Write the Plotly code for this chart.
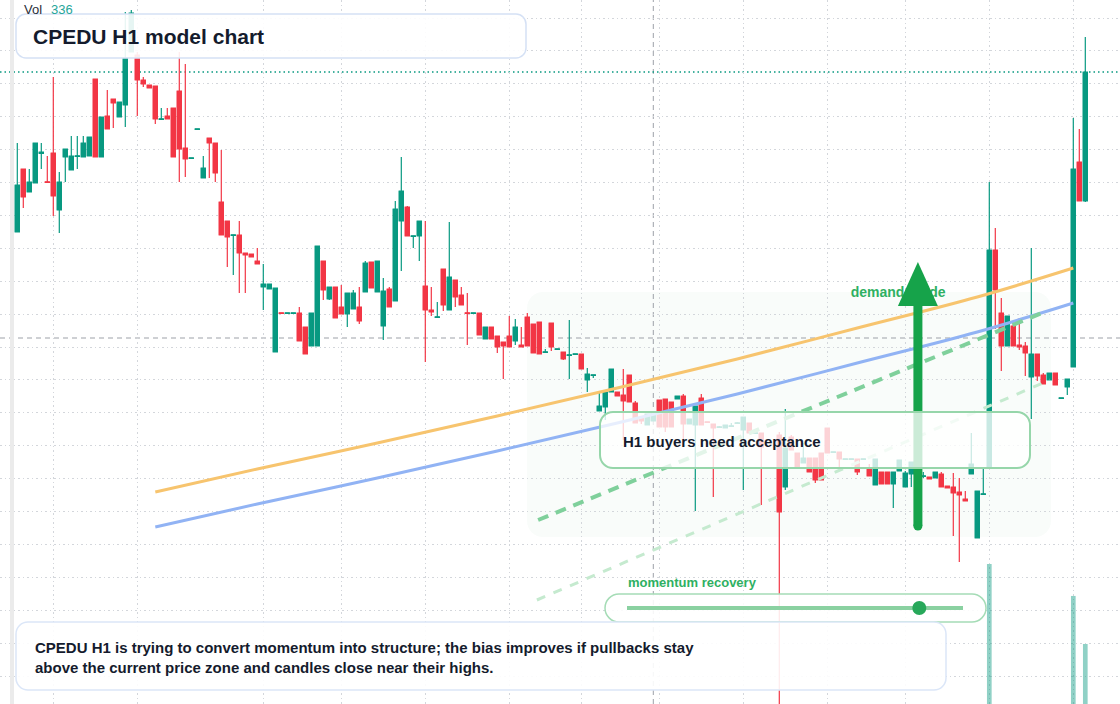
import plotly.graph_objects as go

# ---------------- data ----------------
bars = list(range(179))
opens = [7.68, 8.31, 8.08, 8.17, 8.465, 8.18, 8.47, 7.90, 8.43, 8.30,
         8.435, 8.43, 8.44, 9.21, 8.43, 8.84, 9.01, 8.83, 8.95, 9.48,
         9.45, 9.20, 9.15, 9.14, 8.805, 8.84, 8.92, 9.09, 8.52, 8.415,
         8.705, 8.22, 8.62, 8.57, 7.98, 7.79, 7.645, 7.65, 7.47, 7.46,
         7.39, 7.13, 7.11, 6.48, 6.87, 6.865, 6.865, 6.87, 6.73, 6.54,
         6.54, 7.39, 7.01, 7.13, 6.93, 6.86, 6.91, 6.93, 7.08, 7.38,
         7.08, 6.74, 7.11, 6.99, 7.79, 7.93, 7.635, 7.64, 7.14, 6.90,
         6.825, 7.31, 6.90, 7.20, 7.05, 6.87, 6.865, 6.87, 6.61, 6.73,
         6.64, 6.58, 6.64, 6.59, 6.55, 6.83, 6.76, 6.78, 6.475, 6.77,
         6.505, 6.48, 6.445, 6.455, 6.46, 6.20, 6.245, 5.89, 5.93, 6.08,
         6.08, 6.05, 6.25, 5.97, 5.82, 5.75, 5.79, 6.00, 6.01, 5.98,
         6.01, 6.04, 5.76, 5.75, 6.02, 5.78, 5.76, 5.725, 5.72, 5.735,
         5.765, 5.70, 5.77, 5.665, 5.67, None, None, 5.65, 5.13, 5.63,
         5.47, 5.37, 5.42, 5.42, 5.47, 5.72, 5.475, 5.48, 5.405, 5.405,
         5.41, 5.405, 5.31, 5.15, 5.28, 5.28, 5.16, 5.29, 5.13, 5.26,
         5.295, 5.235, 5.23, 5.22, 5.26, 5.14, 5.13, 5.08, 5.01, 5.26,
         4.62, 5.055, 5.32, 7.50, 6.87, 6.54, 6.74, 6.55, 6.54, 6.23,
         6.46, 6.25, 6.20, 6.27, 6.015, 6.13, 6.33, 8.38, 7.99]
highs = [8.57, 8.31, 8.31, 8.57, 8.57, 8.44, 9.23, 8.28, 8.51, 8.64,
         8.64, 8.64, 8.63, 9.21, 8.83, 9.10, 9.01, 8.98, 9.88, 9.90,
         9.48, 9.23, 9.15, 9.14, 8.92, 8.92, 8.92, 9.48, 9.36, 8.42,
         8.71, 8.44, 8.62, 8.57, 8.50, 7.79, 7.65, 7.79, 7.47, 7.46,
         7.52, 7.36, 7.16, 7.12, 6.87, 6.87, 6.87, 6.93, 6.73, 6.87,
         7.54, 7.39, 7.13, 7.13, 7.15, 7.07, 7.10, 7.13, 7.39, 7.38,
         7.39, 7.22, 7.13, 7.99, 8.43, 7.94, 7.64, 7.79, 7.79, 7.13,
         6.98, 7.31, 7.78, 7.20, 7.13, 7.07, 6.87, 6.87, 6.73, 6.73,
         6.64, 6.58, 6.84, 6.81, 6.73, 6.87, 6.76, 6.78, 6.51, 6.77,
         6.51, 6.48, 6.80, 6.46, 6.46, 6.32, 6.25, 6.08, 6.08, 6.31,
         6.08, 6.31, 6.25, 5.99, 5.82, 5.86, 5.87, 6.00, 6.01, 5.98,
         6.04, 6.06, 5.81, 5.94, 6.06, 5.78, 5.76, 5.74, 5.75, 5.77,
         5.78, 5.83, 5.77, 5.67, 5.67, None, None, 5.68, 5.91, 5.65,
         5.47, 5.57, 5.42, 5.42, 5.47, 5.72, 5.48, 5.48, 5.41, 5.41,
         5.41, 5.41, 5.36, 5.41, 5.28, 5.28, 5.28, 5.40, 5.29, 5.38,
         5.30, 5.28, 5.23, 5.28, 5.28, 5.14, 5.27, 5.22, 5.09, 5.67,
         5.09, 5.32, 8.18, 7.72, 7.02, 6.84, 6.76, 6.82, 6.58, 7.52,
         6.46, 6.27, 6.27, 6.27, 6.02, 6.21, 8.82, 8.71, 9.63]
lows = [7.68, 7.92, 8.08, 8.17, 8.31, 8.175, 7.84, 7.67, 8.18, 8.30,
        8.31, 8.43, 8.44, 8.43, 8.43, 8.71, 8.72, 8.83, 8.73, 9.48,
        8.84, 9.13, 9.12, 8.76, 8.805, 8.81, 8.43, 8.18, 8.23, 8.415,
        8.705, 8.22, 8.22, 8.18, 7.65, 7.33, 7.25, 7.07, 7.07, 7.43,
        7.36, 6.90, 7.11, 6.48, 6.865, 6.865, 6.865, 6.59, 6.46, 6.54,
        6.54, 7.00, 7.00, 6.82, 6.86, 6.73, 6.91, 6.76, 7.08, 7.12,
        7.08, 6.60, 6.93, 6.99, 7.29, 7.64, 7.52, 7.39, 6.38, 6.84,
        6.825, 6.89, 6.90, 6.93, 6.95, 6.55, 6.865, 6.65, 6.61, 6.61,
        6.47, 6.21, 6.53, 6.55, 6.53, 6.54, 6.47, 6.46, 6.475, 6.49,
        6.505, 6.40, 6.21, 6.455, 6.31, 6.08, 6.22, 5.89, 5.80, 6.08,
        6.04, 5.60, 5.98, 5.77, 5.76, 5.75, 5.79, 5.73, 5.68, 5.73,
        6.01, 5.61, 5.76, 4.89, 5.75, 5.775, 5.03, 5.72, 5.72, 5.735,
        5.765, 5.10, 5.67, 5.665, 4.95, None, None, 2.80, 5.10, 5.50,
        5.33, 5.37, 5.28, 5.17, 5.20, 5.47, 5.475, 5.32, 5.405, 5.405,
        5.25, 5.405, 5.24, 5.15, 5.16, 5.16, 4.92, 5.29, 5.13, 5.13,
        5.295, 5.22, 5.21, 5.22, 5.13, 5.12, 4.64, 4.38, 4.99, 5.26,
        4.62, 5.055, 5.32, 6.71, 6.29, 6.54, 6.54, 6.50, 6.24, 5.81,
        6.19, 6.16, 6.20, 6.15, 6.015, 6.05, 6.33, 7.99, 7.98]
closes = [8.15, 8.03, 8.18, 8.57, 8.48, 8.175, 8.04, 8.18, 8.51, 8.44,
          8.44, 8.57, 8.63, 8.43, 8.83, 8.71, 8.97, 8.98, 9.42, 9.87,
          9.20, 9.16, 9.12, 8.81, 8.81, 8.81, 8.43, 8.51, 8.41, 8.42,
          8.71, 8.32, 8.57, 8.27, 7.65, 7.63, 7.65, 7.47, 7.45, 7.43,
          7.36, 7.16, 7.16, 7.12, 6.865, 6.87, 6.87, 6.59, 6.46, 6.87,
          7.54, 7.10, 7.13, 6.82, 6.86, 7.07, 7.07, 6.79, 7.37, 7.12,
          7.39, 7.09, 6.93, 7.91, 8.09, 7.64, 7.64, 7.79, 6.90, 6.88,
          6.83, 6.95, 7.23, 7.03, 6.95, 6.865, 6.87, 6.65, 6.73, 6.61,
          6.53, 6.54, 6.53, 6.73, 6.53, 6.54, 6.47, 6.46, 6.48, 6.53,
          6.51, 6.41, 6.45, 6.46, 6.31, 6.26, 6.25, 5.94, 6.08, 6.31,
          6.04, 5.99, 5.98, 5.77, 5.79, 5.86, 5.87, 5.73, 5.73, 5.73,
          6.04, 5.76, 5.81, 5.94, 5.75, 5.775, 5.72, 5.73, 5.75, 5.74,
          5.77, 5.83, 5.67, 5.67, 5.53, None, None, 4.88, 5.52, 5.50,
          5.33, 5.42, 5.28, 5.20, 5.20, 5.47, 5.48, 5.41, 5.41, 5.41,
          5.28, 5.41, 5.24, 5.41, 5.16, 5.16, 5.28, 5.40, 5.27, 5.38,
          5.30, 5.24, 5.21, 5.28, 5.13, 5.12, 5.07, 5.05, 4.99, 5.36,
          5.09, 5.06, 7.50, 7.10, 6.54, 6.84, 6.54, 6.53, 6.47, 6.46,
          6.24, 6.16, 6.27, 6.15, 6.02, 6.21, 8.31, 7.99, 9.28]

vol_bars = [162, 176, 178]
vol_values = [784, 605, 336]

ma_bars = [23, 40, 60, 80, 100, 120, 140, 160, 176]
ma_slow = [5.08, 5.31, 5.57, 5.84, 6.12, 6.41, 6.72, 7.03, 7.32]
ma_fast = [4.73, 4.96, 5.22, 5.49, 5.77, 6.06, 6.37, 6.68, 6.97]

support_bars = [86.8, 171.6]
support_vals = [4.80, 6.89]
channel_bars = [86.6, 172.1]
channel_vals = [4.00, 6.20]

grid_bars = [6, 20, 41, 54, 68, 82, 94, 107, 121, 135, 148, 162, 176]

crosshair_bar = 106
crosshair_price = 6.62
momentum_value = 0.87

# ---------------- style ----------------
W, H = 1120, 704
GREEN = "#089981"
RED = "#f23645"
FONT = "Liberation Sans, Arial, Helvetica, sans-serif"
DARK = "#141b2d"
GRID = "#d3d6db"
LABEL_GREEN = "#2eb062"

X_RANGE = [-17.3 / 6, (W - 17.3) / 6]
Y_RANGE = [2.96, 10.0]


def px(x):
    return x / W


def py(y):
    return 1 - y / H


def rounded_path(x0, y0, x1, y1, r):
    k = 0.5523 * r
    p = []
    p.append(f"M {px(x0 + r)},{py(y0)}")
    p.append(f"L {px(x1 - r)},{py(y0)}")
    p.append(f"C {px(x1 - r + k)},{py(y0)} {px(x1)},{py(y0 + r - k)} {px(x1)},{py(y0 + r)}")
    p.append(f"L {px(x1)},{py(y1 - r)}")
    p.append(f"C {px(x1)},{py(y1 - r + k)} {px(x1 - r + k)},{py(y1)} {px(x1 - r)},{py(y1)}")
    p.append(f"L {px(x0 + r)},{py(y1)}")
    p.append(f"C {px(x0 + r - k)},{py(y1)} {px(x0)},{py(y1 - r + k)} {px(x0)},{py(y1 - r)}")
    p.append(f"L {px(x0)},{py(y0 + r)}")
    p.append(f"C {px(x0)},{py(y0 + r - k)} {px(x0 + r - k)},{py(y0)} {px(x0 + r)},{py(y0)}")
    p.append("Z")
    return " ".join(p)


# candle bodies (widened bodies on top of the candlestick wicks)
body_base, body_size, body_color = [], [], []
for o, c in zip(opens, closes):
    if o is None or c is None:
        body_base.append(None)
        body_size.append(None)
        body_color.append(GREEN)
        continue
    body_base.append(min(o, c))
    body_size.append(max(abs(c - o), 0.012))
    body_color.append(GREEN if c > o else RED)

fig = go.Figure()

fig.add_trace(go.Bar(
    x=vol_bars, y=vol_values, yaxis="y2", width=0.78,
    marker=dict(color="rgba(8,153,129,0.45)", line=dict(width=0)),
    hoverinfo="skip"))

fig.add_trace(go.Bar(
    x=bars, y=body_size, base=body_base, width=0.82,
    marker=dict(color=body_color, line=dict(width=0)),
    hoverinfo="skip"))

fig.add_trace(go.Candlestick(
    x=bars, open=opens, high=highs, low=lows, close=closes,
    increasing=dict(line=dict(color=GREEN, width=1.2), fillcolor=GREEN),
    decreasing=dict(line=dict(color=RED, width=1.2), fillcolor=RED),
    whiskerwidth=0, hoverinfo="skip"))

fig.add_trace(go.Scatter(x=ma_bars, y=ma_slow, mode="lines",
                         line=dict(color="#f7c46e", width=3, shape="spline"),
                         hoverinfo="skip"))
fig.add_trace(go.Scatter(x=ma_bars, y=ma_fast, mode="lines",
                         line=dict(color="#91b3f4", width=3, shape="spline"),
                         hoverinfo="skip"))
fig.add_trace(go.Scatter(x=support_bars, y=support_vals, mode="lines",
                         line=dict(color="#7fd09b", width=4, dash="11px,8px"),
                         hoverinfo="skip"))
fig.add_trace(go.Scatter(x=channel_bars, y=channel_vals, mode="lines",
                         line=dict(color="#c5eacf", width=3, dash="9px,9px"),
                         hoverinfo="skip"))

# demand label (drawn as trace text so the arrow covers it)
DEMAND_X, DEMAND_Y = 146.8, 7.07
fig.add_trace(go.Scatter(x=[DEMAND_X], y=[DEMAND_Y], mode="text",
                         text=["demand guide"],
                         textfont=dict(size=14, color=LABEL_GREEN, family=FONT, weight="bold"),
                         hoverinfo="skip"))

shapes = []
# faint demand zone
shapes.append(dict(type="path", xref="paper", yref="paper", layer="below",
                   path=rounded_path(527, 292, 1051, 537, 16),
                   fillcolor="rgba(22,163,74,0.028)", line=dict(width=0)))
# crosshair
shapes.append(dict(type="line", xref="paper", yref="y", x0=0, x1=1,
                   y0=crosshair_price, y1=crosshair_price, layer="between",
                   line=dict(color="#9da1a8", width=1, dash="5px,4px")))
shapes.append(dict(type="line", xref="x", yref="paper", x0=crosshair_bar, x1=crosshair_bar,
                   y0=0, y1=1, layer="between",
                   line=dict(color="#9da1a8", width=1, dash="5px,4px")))
# last price line
shapes.append(dict(type="line", xref="paper", yref="y", x0=0, x1=1,
                   y0=closes[-1], y1=closes[-1], layer="between",
                   line=dict(color=GREEN, width=1.5, dash="1.5px,3px")))
# arrow
AX, A_BASE, A_NECK, A_TIP, A_HALF = 150.1, 4.74, 6.95, 7.38, 3.33
ARROW = "#16a34a"
shapes.append(dict(type="line", xref="x", yref="y", x0=AX, x1=AX, y0=A_BASE, y1=A_NECK,
                   layer="above", line=dict(color=ARROW, width=9)))
shapes.append(dict(type="circle", xref="x", yref="y", x0=AX - 0.75, x1=AX + 0.75,
                   y0=A_BASE - 0.045, y1=A_BASE + 0.045, layer="above",
                   fillcolor=ARROW, line=dict(width=0)))
shapes.append(dict(type="path", xref="x", yref="y", layer="above",
                   path=f"M {AX - A_HALF},{A_NECK - 0.01} L {AX + A_HALF},{A_NECK - 0.01} L {AX},{A_TIP} Z",
                   fillcolor=ARROW, line=dict(width=0)))
# callout box
shapes.append(dict(type="path", xref="paper", yref="paper", layer="above",
                   path=rounded_path(600, 412, 1030, 468, 13),
                   fillcolor="rgba(255,255,255,0.78)", line=dict(color="#96d6aa", width=2)))
# title box
shapes.append(dict(type="path", xref="paper", yref="paper", layer="above",
                   path=rounded_path(16, 14, 526, 58, 10),
                   fillcolor="rgba(255,255,255,0.9)", line=dict(color="#d5e1f5", width=1.5)))
# momentum pill
shapes.append(dict(type="path", xref="paper", yref="paper", layer="above",
                   path=rounded_path(605, 594, 986, 622, 14),
                   fillcolor="rgba(255,255,255,0.88)", line=dict(color="#a5dcb6", width=1.5)))
TRACK0, TRACK1, TRACK_Y = 627, 963, 608
shapes.append(dict(type="line", xref="paper", yref="paper",
                   x0=px(TRACK0), x1=px(TRACK1), y0=py(TRACK_Y), y1=py(TRACK_Y),
                   layer="above", line=dict(color="#8ad1a1", width=4)))
dot_x = TRACK0 + momentum_value * (TRACK1 - TRACK0)
shapes.append(dict(type="circle", xref="paper", yref="paper",
                   x0=px(dot_x - 7), x1=px(dot_x + 7), y0=py(TRACK_Y + 7), y1=py(TRACK_Y - 7),
                   layer="above", fillcolor="#27a85a", line=dict(width=0)))
# bottom note box
shapes.append(dict(type="path", xref="paper", yref="paper", layer="above",
                   path=rounded_path(16, 622, 946, 690, 12),
                   fillcolor="rgba(255,255,255,0.9)", line=dict(color="#dbe6f8", width=1.5)))
# left edge strip
shapes.append(dict(type="rect", xref="paper", yref="paper", x0=px(10), x1=px(14), y0=0, y1=1,
                   layer="above", fillcolor="#ebebeb", line=dict(width=0)))

annotations = [
    dict(xref="paper", yref="paper", x=px(22), y=py(9), xanchor="left", yanchor="middle",
         text="Vol", showarrow=False, font=dict(family=FONT, size=13, color="#2a2e39")),
    dict(xref="paper", yref="paper", x=px(49), y=py(9), xanchor="left", yanchor="middle",
         text=str(vol_values[-1]), showarrow=False, font=dict(family=FONT, size=13, color="#26a69a")),
    dict(xref="paper", yref="paper", x=px(31), y=py(36), xanchor="left", yanchor="middle",
         text="<b>CPEDU H1 model chart</b>", showarrow=False,
         font=dict(family=FONT, size=21, color=DARK)),
    dict(xref="paper", yref="paper", x=px(621), y=py(441), xanchor="left", yanchor="middle",
         text="<b>H1 buyers need acceptance</b>", showarrow=False,
         font=dict(family=FONT, size=15, color=DARK)),
    dict(xref="paper", yref="paper", x=px(626), y=py(582), xanchor="left", yanchor="middle",
         text="<b>momentum recovery</b>", showarrow=False,
         font=dict(family=FONT, size=13, color=LABEL_GREEN)),
    dict(xref="paper", yref="paper", x=px(33), y=py(657), xanchor="left", yanchor="middle",
         align="left", showarrow=False,
         text="<b>CPEDU H1 is trying to convert momentum into structure; the bias improves if pullbacks stay"
              "<br>above the current price zone and candles close near their highs.</b>",
         font=dict(family=FONT, size=15, color=DARK)),
]

fig.update_layout(
    width=W, height=H,
    margin=dict(l=0, r=0, t=0, b=0, pad=0),
    paper_bgcolor="white", plot_bgcolor="white",
    showlegend=False, hovermode=False, dragmode=False,
    barmode="overlay", boxgap=0.0,
    shapes=shapes, annotations=annotations,
    xaxis=dict(range=X_RANGE, showticklabels=False, ticks="", tickmode="array",
               tickvals=grid_bars, showgrid=True, gridcolor=GRID, gridwidth=1,
               griddash="1.5px,3px", zeroline=False, showline=False,
               rangeslider=dict(visible=False), fixedrange=True),
    yaxis=dict(range=Y_RANGE, showticklabels=False, ticks="", tick0=9.82, dtick=0.329,
               showgrid=True, gridcolor=GRID, gridwidth=1, griddash="1.5px,3px",
               zeroline=False, showline=False, fixedrange=True),
    yaxis2=dict(overlaying="y", range=[0, 3942], visible=False, showgrid=False,
                fixedrange=True),
)

fig.write_html("out.html", config={"displayModeBar": False, "staticPlot": True},
               post_script="document.body.style.margin='0';document.body.style.overflow='hidden';")
